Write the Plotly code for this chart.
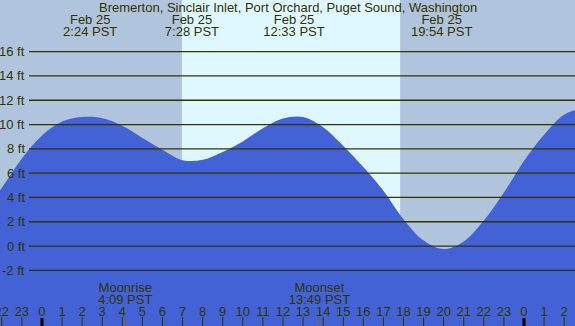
import plotly.graph_objects as go

# ---- data (hourly tide heights, ft) ----
TITLE = "Bremerton, Sinclair Inlet, Port Orchard, Puget Sound, Washington"
hours = list(range(-3, 29))
tide_ft = [2.6, 4.8, 7.2, 9.1, 10.25, 10.62, 10.52, 9.9, 8.9, 7.93, 7.07, 7.1,
           7.75, 8.6, 9.7, 10.5, 10.62, 9.78, 8.25, 6.5, 4.55, 2.2, 0.45, -0.25,
           0.38, 2.1, 4.4, 7.0, 9.15, 10.8, 11.35, 11.3]
extreme_hours = [2.4, 7.467, 12.55, 19.9, 27.43]
extreme_dates = ["Feb 25", "Feb 25", "Feb 25", "Feb 25", "Feb 26"]
extreme_times = ["2:24 PST", "7:28 PST", "12:33 PST", "19:54 PST", "3:26 PST"]
sunrise_h, sunset_h = 6.967, 17.833
moon_hours = [4.15, 13.817]
moon_names = ["Moonrise", "Moonset"]
moon_times = ["4:09 PST", "13:49 PST"]
grid_ft = [16, 14, 12, 10, 8, 6, 4, 2, 0, -2]
hour_ticks = list(range(-2, 27))
hour_labels = [str(h % 24) for h in hour_ticks]

# ---- layout constants ----
W, H = 575, 326
X_RANGE = [-2.09, 26.54]
Y_RANGE = [-6.58, 20.25]
PPF = H / (Y_RANGE[1] - Y_RANGE[0])
NIGHT = "#b0c4de"
DAY = "#dff8ff"
WATER = "#4262d6"
INK = "#333300"
FONT = "Liberation Sans, Arial, sans-serif"
FS = 13


def ypx(py):
    return Y_RANGE[1] - py / PPF


def text_trace(xs, py, labels):
    return go.Scatter(x=xs, y=[ypx(py)] * len(xs), mode="text", text=labels,
                      textposition="middle center",
                      textfont=dict(family=FONT, size=FS, color=INK),
                      cliponaxis=False, showlegend=False, hoverinfo="skip")


fig = go.Figure()
fig.add_trace(go.Scatter(x=hours, y=[Y_RANGE[0] - 1] * len(hours), mode="lines",
                         line=dict(width=0, color=WATER), hoverinfo="skip", showlegend=False))
fig.add_trace(go.Scatter(x=hours, y=tide_ft, mode="lines",
                         line=dict(width=0, color=WATER, shape="spline", smoothing=1.0),
                         fill="tonexty", fillcolor=WATER, showlegend=False))

fig.add_trace(text_trace(extreme_hours, 21, extreme_dates))
fig.add_trace(text_trace(extreme_hours, 33, extreme_times))
fig.add_trace(text_trace(moon_hours, 289, moon_names))
fig.add_trace(text_trace(moon_hours, 301, moon_times))
fig.add_trace(text_trace(hour_ticks, 313, hour_labels))

shapes = [dict(type="rect", xref="x", yref="paper", x0=sunrise_h, x1=sunset_h, y0=0, y1=1,
               fillcolor=DAY, line=dict(width=0), layer="below")]
for g in grid_ft:
    shapes.append(dict(type="line", xref="paper", yref="y", x0=29 / W, x1=1, y0=g, y1=g,
                       line=dict(color=INK, width=1.3), layer="above"))
for h in hour_ticks:
    mid = h % 24 == 0
    shapes.append(dict(type="line", xref="x", yref="paper", x0=h, x1=h, y0=0, y1=(8 if mid else 9) / H,
                       line=dict(color="#000000" if mid else INK, width=3 if mid else 1), layer="above"))
for mh in moon_hours:
    shapes.append(dict(type="line", xref="x", yref="paper", x0=mh, x1=mh, y0=0, y1=9 / H,
                       line=dict(color="#8b5a2b", width=1), layer="above"))

annotations = [dict(text=TITLE, xref="paper", yref="paper", x=0.5, y=1 - 8 / H, xanchor="center",
                    yanchor="middle", showarrow=False, font=dict(family=FONT, size=FS, color=INK))]
for g in grid_ft:
    annotations.append(dict(text=f"{g} ft", xref="paper", yref="y", x=27 / W, y=g, xanchor="right",
                            yanchor="middle", showarrow=False, font=dict(family=FONT, size=FS, color=INK)))

fig.update_layout(width=W, height=H, margin=dict(l=0, r=0, t=0, b=0),
                  paper_bgcolor=NIGHT, plot_bgcolor=NIGHT, shapes=shapes, annotations=annotations,
                  xaxis=dict(range=X_RANGE, visible=False, fixedrange=True),
                  yaxis=dict(range=Y_RANGE, visible=False, fixedrange=True),
                  showlegend=False)
fig.write_html("out.html", config={"displayModeBar": False},
               post_script="document.body.style.margin='0';document.body.style.padding='0';")
